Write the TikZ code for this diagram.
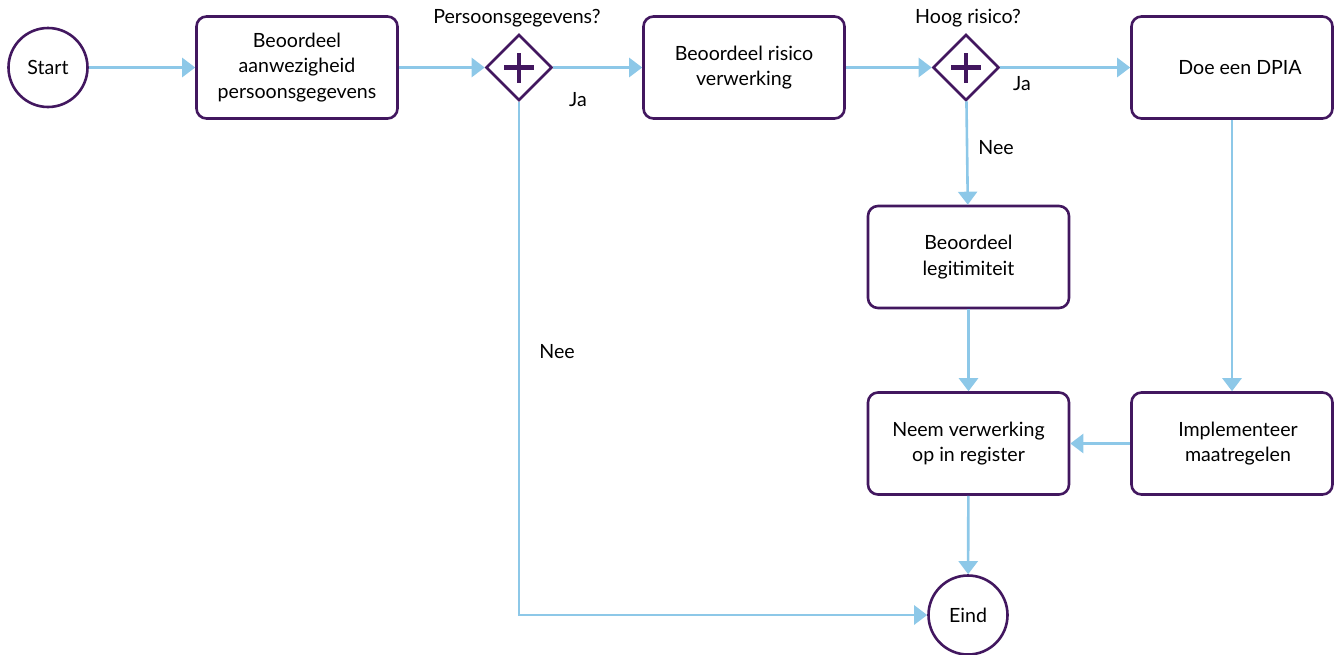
\documentclass[tikz,border=0pt]{standalone}
\usepackage{fontspec}
\setmainfont{Lato}
\usetikzlibrary{shapes.geometric,arrows.meta}
\definecolor{pur}{HTML}{42175F}
\definecolor{flow}{HTML}{8DC8E8}
\tikzset{
  task/.style={draw=pur,line width=2.6pt,rounded corners=10pt,minimum width=201pt,minimum height=102pt,align=center,inner sep=0pt,font=\fontsize{19.6}{25.5}\selectfont},
  ev/.style={draw=pur,line width=2.6pt,circle,minimum size=79pt,inner sep=0pt,font=\fontsize{19.6}{25.5}\selectfont},
  gw/.style={draw=pur,line width=2.6pt,diamond,minimum width=66pt,minimum height=66pt,inner sep=0pt},
  flowline/.style={draw=flow,line width=2.6pt,-{Triangle[length=13pt,width=19pt]}},
  lbl/.style={font=\fontsize{19.6}{22}\selectfont,inner sep=0pt}
}
\begin{document}
\begin{tikzpicture}[x=1pt,y=-1pt]
\useasboundingbox (0,0) rectangle (1338,654);
\node[ev] (start) at (48,67.5) {Start};
\node[task] (b1) at (297,67.5) {Beoordeel\\aanwezigheid\\persoonsgegevens};
\node[gw] (g1) at (519,67.5) {};
\draw[pur,line width=4.5pt] ([xshift=-15pt]g1.center) -- ([xshift=15pt]g1.center) ([yshift=-15pt]g1.center) -- ([yshift=15pt]g1.center);
\node[lbl] (q1) at (517,18) {Persoonsgegevens?};
\node[task] (b2) at (744,67.5) {Beoordeel risico\\verwerking};
\node[gw] (g2) at (966,67.5) {};
\draw[pur,line width=4.5pt] ([xshift=-15pt]g2.center) -- ([xshift=15pt]g2.center) ([yshift=-15pt]g2.center) -- ([yshift=15pt]g2.center);
\node[lbl] (q2) at (968,18) {Hoog risico?};
\node[task] (b3) at (1232,67.5) {\hspace*{16pt}Doe een DPIA};
\node[task] (b4) at (968.5,257) {Beoordeel\\legitimiteit};
\node[task] (b5) at (968.5,443.5) {Neem verwerking\\op in register};
\node[task] (b6) at (1232,443.5) {\hspace*{12pt}Implementeer\\\hspace*{12pt}maatregelen};
\node[ev] (eind) at (968,615) {Eind};
\draw[flowline] (start) -- (b1);
\draw[flowline] (b1) -- (g1);
\draw[flowline] (g1) -- (b2);
\draw[flowline] (b2) -- (g2);
\draw[flowline] (g2) -- (b3);
\draw[flowline] (g2) -- (b4);
\draw[flowline] (b4) -- (b5);
\draw[flowline] (b3) -- (b6);
\draw[flowline] (b6) -- (b5);
\draw[flowline] (b5) -- (eind);
\draw[flowline] (g1.south) |- (eind.west);
\node[lbl] (ja1) at (578,100) {Ja};
\node[lbl] (ja2) at (1022,84) {Ja};
\node[lbl] (nee1) at (996,148) {Nee};
\node[lbl] (nee2) at (557,352) {Nee};
\end{tikzpicture}
\end{document}
